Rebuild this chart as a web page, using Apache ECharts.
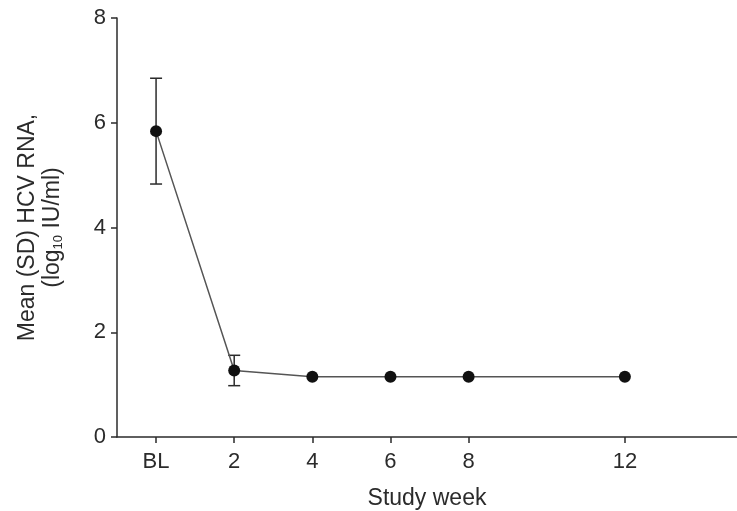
<!DOCTYPE html>
<html>
<head>
<meta charset="utf-8">
<script src="https://cdn.jsdelivr.net/npm/echarts@6/dist/echarts.min.js"></script>
<style>
  html, body { margin: 0; padding: 0; background: #fff; }
  #chart { width: 737px; height: 511px; }
</style>
</head>
<body>
<div id="chart"></div>
<script>
// Study weeks (BL = baseline, week 0)
const weeks = [0, 2, 4, 6, 8, 12];
const tickLabels = ['BL', '2', '4', '6', '8', '12'];
// Mean HCV RNA (log10 IU/ml) and its standard deviation
const meanRna = [5.84, 1.27, 1.15, 1.15, 1.15, 1.15];
const sdRna = [1.01, 0.29, null, null, null, null];
const yTicks = [0, 2, 4, 6, 8];

const font = 'Liberation Sans, Arial, sans-serif';
const ink = '#2b2b2b';

const points = weeks.map((w, i) => [w, meanRna[i]]);
const bars = weeks
  .map((w, i) => [w, meanRna[i], sdRna[i]])
  .filter(d => d[2] != null);

const chart = echarts.init(document.getElementById('chart'), null, { renderer: 'canvas' });

chart.setOption({
  animation: false,
  backgroundColor: '#fff',
  grid: { left: 117, top: 18, bottom: 74, right: 0, containLabel: false, outerBoundsMode: 'none' },
  xAxis: {
    type: 'value',
    min: -1,
    max: 14.87,
    splitLine: { show: false },
    axisLine: { show: true, onZero: false, lineStyle: { color: ink, width: 1.5 } },
    axisTick: { show: true, length: 6, customValues: weeks, lineStyle: { color: ink, width: 1.5 } },
    axisLabel: {
      customValues: weeks,
      margin: 14,
      fontFamily: font, fontSize: 22, color: ink,
      formatter: v => tickLabels[weeks.indexOf(v)]
    },
    name: 'Study week',
    nameLocation: 'middle',
    nameGap: 50,
    nameTextStyle: { fontFamily: font, fontSize: 23, color: ink }
  },
  yAxis: {
    type: 'value',
    min: 0,
    max: 8,
    interval: 2,
    splitLine: { show: false },
    axisLine: { show: true, onZero: false, lineStyle: { color: ink, width: 1.5 } },
    axisTick: { show: true, length: 6, lineStyle: { color: ink, width: 1.5 } },
    axisLabel: {
      margin: 11,
      fontFamily: font, fontSize: 22, color: ink,
      formatter: v => (yTicks.includes(v) ? String(v) : '')
    },
    name: '{t|Mean (SD) HCV RNA,}\n{t|(log}{s|10}{t| IU/ml)}',
    nameLocation: 'middle',
    nameRotate: 90,
    nameGap: 52,
    nameTextStyle: {
      fontFamily: font, fontSize: 23, color: ink, lineHeight: 25,
      rich: {
        t: { fontFamily: font, fontSize: 23, color: ink, lineHeight: 25 },
        s: { fontFamily: font, fontSize: 13, color: ink, lineHeight: 25, verticalAlign: 'bottom', padding: [10, 0, 0, 0] }
      }
    }
  },
  series: [
    {
      type: 'line',
      data: points,
      symbol: 'circle',
      symbolSize: 12,
      itemStyle: { color: '#111' },
      lineStyle: { color: '#555', width: 1.5 },
      z: 3
    },
    {
      type: 'custom',
      data: bars,
      z: 2,
      renderItem: (params, api) => {
        const x = api.value(0);
        const m = api.value(1);
        const sd = api.value(2);
        const top = api.coord([x, m + sd]);
        const bot = api.coord([x, m - sd]);
        const half = 6;
        const style = { stroke: ink, lineWidth: 1.5 };
        return {
          type: 'group',
          children: [
            { type: 'line', shape: { x1: top[0], y1: top[1], x2: bot[0], y2: bot[1] }, style },
            { type: 'line', shape: { x1: top[0] - half, y1: top[1], x2: top[0] + half, y2: top[1] }, style },
            { type: 'line', shape: { x1: bot[0] - half, y1: bot[1], x2: bot[0] + half, y2: bot[1] }, style }
          ]
        };
      }
    }
  ]
});
</script>
</body>
</html>
